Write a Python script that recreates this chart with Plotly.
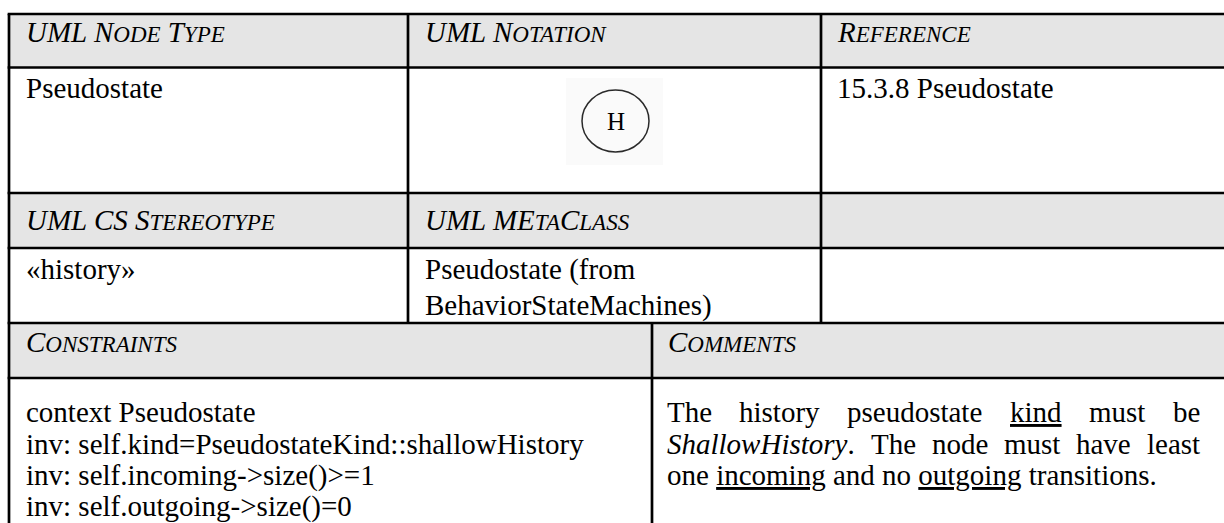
import plotly.graph_objects as go

# ---------------- content ----------------
header_row1 = ["UML Node Type", "UML Notation", "Reference"]
body_row2 = ["Pseudostate", "H", "15.3.8 Pseudostate"]
header_row3 = ["UML CS Stereotype", "UML MEtaClass", ""]
body_row4 = [["«history»"], ["Pseudostate (from", "BehaviorStateMachines)"], [""]]
header_row5 = ["Constraints", "Comments"]
constraints_lines = [
    "context Pseudostate",
    "inv: self.kind=PseudostateKind::shallowHistory",
    "inv: self.incoming->size()>=1",
    "inv: self.outgoing->size()=0",
]
# comment paragraph: (word, style) ; style: n normal, u underline, i italic
comment_line1 = [("The", "n"), ("history", "n"), ("pseudostate", "n"), ("kind", "u"), ("must", "n"), ("be", "n")]
comment_line2 = [("ShallowHistory", "i"), ("The", "n"), ("node", "n"), ("must", "n"), ("have", "n"), ("least", "n")]
comment_line3 = [("one", "n"), ("incoming", "u"), ("and", "n"), ("no", "n"), ("outgoing", "u"), ("transitions.", "n")]

# ---------------- style ----------------
W, H = 1224, 523
FONT = "Liberation Serif"
FS = 29
SC = 23
GRAY = "#e5e5e5"
LW = 2.7

# grid geometry (px)
X_LEFT, X_C1, X_C2, X_RIGHT = 9, 408, 821, 1240
X_B1 = 652
Y = [14, 67.5, 193, 248, 323, 378, 540]

# Times (Liberation Serif) advance widths /1000
REG = {' ': 250, 'T': 611, 'h': 500, 'e': 444, 'i': 278, 's': 389, 't': 278, 'o': 500, 'r': 333,
       'y': 500, 'p': 500, 'u': 500, 'd': 500, 'a': 444, 'k': 500, 'n': 500, 'm': 778, 'b': 500,
       'v': 500, 'l': 278, 'c': 444, 'g': 500, 'w': 722, '.': 250, 'N': 722, 'H': 722, 'S': 556}
ITA = {'S': 500, 'h': 500, 'a': 500, 'l': 278, 'o': 500, 'w': 667, 'H': 722, 'i': 278, 's': 389,
       't': 278, 'r': 389, 'y': 444}


def width(word, style):
    table = ITA if style == "i" else REG
    return sum(table[c] for c in word) * FS / 1000.0


def smallcaps(s):
    out, buf = "", ""
    for ch in s:
        if ch.islower():
            buf += ch.upper()
        else:
            if buf:
                out += f"<span style='font-size:{SC}px'>{buf}</span>"
                buf = ""
            out += ch
    if buf:
        out += f"<span style='font-size:{SC}px'>{buf}</span>"
    return out


def fmt(word, style):
    if style == "u":
        return f"<span style='text-decoration:underline'>{word}</span>"
    if style == "i":
        return f"<i>{word}</i>"
    return word


fig = go.Figure()
shapes = []
ann = []


def text(x, y, s, size=FS, italic=False, xanchor="left"):
    ann.append(dict(x=x, y=y, xref="x", yref="y", text=s, showarrow=False,
                    xanchor=xanchor, yanchor="middle", borderpad=0,
                    font=dict(family=FONT, size=size, color="black",
                              style="italic" if italic else "normal")))


# header backgrounds
for r in (0, 2, 4):
    shapes.append(dict(type="rect", xref="x", yref="y", x0=X_LEFT, x1=X_RIGHT, y0=Y[r], y1=Y[r + 1],
                       fillcolor=GRAY, line=dict(width=0), layer="below"))

# notation picture: faint box, ellipse
shapes.append(dict(type="rect", xref="x", yref="y", x0=566, x1=663, y0=78, y1=165,
                   fillcolor="#fafafa", line=dict(width=0), layer="below"))
shapes.append(dict(type="circle", xref="x", yref="y", x0=582, x1=649, y0=90, y1=152,
                   line=dict(color="#2a2a2a", width=1.5)))

# grid lines
for yy in Y[:6]:
    shapes.append(dict(type="line", xref="x", yref="y", x0=X_LEFT - LW / 2, x1=X_RIGHT, y0=yy, y1=yy,
                       line=dict(color="black", width=LW)))
shapes.append(dict(type="line", xref="x", yref="y", x0=X_LEFT, x1=X_LEFT, y0=Y[0], y1=Y[6],
                   line=dict(color="black", width=LW)))
for xx in (X_C1, X_C2):
    shapes.append(dict(type="line", xref="x", yref="y", x0=xx, x1=xx, y0=Y[0], y1=Y[4],
                       line=dict(color="black", width=LW)))
shapes.append(dict(type="line", xref="x", yref="y", x0=X_B1, x1=X_B1, y0=Y[4], y1=Y[6],
                   line=dict(color="black", width=LW)))

# text positions
col_x = [25, 424, 836]
# row 1 headers
for i, h in enumerate(header_row1):
    text(col_x[i], 32, smallcaps(h), italic=True)
# row 2 body
text(col_x[0], 88, body_row2[0])
text(615.5, 121, body_row2[1], size=25, xanchor="center")
text(col_x[2], 88, body_row2[2])
# row 3 headers
for i, h in enumerate(header_row3):
    if h:
        text(col_x[i], 220, smallcaps(h), italic=True)
# row 4 body
row4_y = [269, 305]
for i, lines in enumerate(body_row4):
    for j, ln in enumerate(lines):
        if ln:
            text(col_x[i], row4_y[j], ln)
# row 5 headers
text(25, 342, smallcaps(header_row5[0]), italic=True)
text(667, 342, smallcaps(header_row5[1]), italic=True)
# constraints
c_y = [412, 443.5, 475, 506.5]
for j, ln in enumerate(constraints_lines):
    text(25, c_y[j], ln.replace(">", "&gt;"))

# comments: justified lines
CL, CR = 666, 1199


def justified(words, y, trailing_period_after_first=False):
    items = []
    for k, (w, st) in enumerate(words):
        s = fmt(w, st)
        wd = width(w, st)
        if trailing_period_after_first and k == 0:
            s += "."
            wd += width(".", "n")
        items.append((s, wd))
    total = sum(wd for _, wd in items)
    gap = (CR - CL - total) / (len(items) - 1)
    x = CL
    for s, wd in items:
        text(x, y, s)
        x += wd + gap


justified(comment_line1, c_y[0])
justified(comment_line2, c_y[1], trailing_period_after_first=True)
text(CL, c_y[2], " ".join(fmt(w, st) for w, st in comment_line3))

fig.update_layout(
    width=W, height=H, margin=dict(l=0, r=0, t=0, b=0),
    paper_bgcolor="white", plot_bgcolor="white",
    xaxis=dict(range=[0, W], visible=False, fixedrange=True),
    yaxis=dict(range=[H, 0], visible=False, fixedrange=True),
    shapes=shapes, annotations=ann, showlegend=False,
)
fig.write_html(
    "out.html",
    config={"displayModeBar": False},
    post_script="document.body.style.margin='0';document.body.style.padding='0';"
                "document.body.style.overflow='hidden';",
)
